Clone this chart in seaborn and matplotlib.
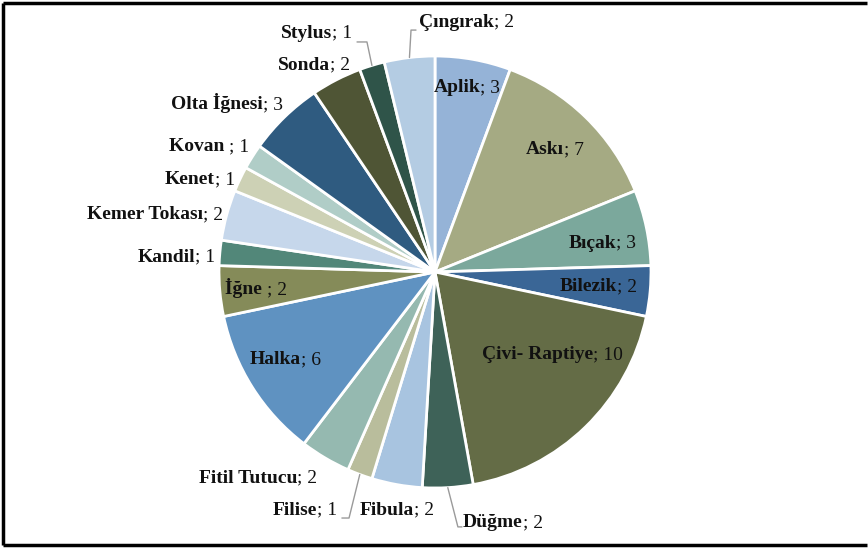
import matplotlib
matplotlib.use("Agg")
import matplotlib.pyplot as plt
import seaborn as sns
import numpy as np
from matplotlib.offsetbox import TextArea, HPacker, AnnotationBbox
from matplotlib.lines import Line2D

# ---- data ----
categories = ["Aplik", "Askı", "Bıçak", "Bilezik", "Çivi- Raptiye", "Düğme",
              "Fibula", "Filise", "Fitil Tutucu", "Halka", "İğne ", "Kandil",
              "Kemer Tokası", "Kenet", "Kovan ", "Olta İğnesi", "Sonda",
              "Stylus", "Çıngırak"]
values = [3, 7, 3, 2, 10, 2, 2, 1, 2, 6, 2, 1, 2, 1, 1, 3, 2, 1, 2]
colors = ["#95B3D7", "#A5AA83", "#7BA89C", "#3A6696", "#646C46", "#3E6258",
          "#A8C4E0", "#B9BD9C", "#95B9B0", "#5F92C1", "#858B59", "#528779",
          "#C6D7EB", "#CDD1B5", "#B0CDC7", "#2F5B80", "#4F5535", "#2F5449",
          "#B4CCE3"]

# label layout (data coords, pie radius = 1): (x, y, horizontal alignment)
label_pos = [(0.148, 0.852, "c"), (0.556, 0.565, "c"), (0.773, 0.134, "c"),
             (0.755, -0.069, "c"), (0.542, -0.384, "c"), (0.130, -1.162, "l"),
             (-0.176, -1.102, "c"), (-0.454, -1.102, "r"), (-0.819, -0.954, "c"),
             (-0.694, -0.407, "c"), (-0.829, -0.074, "c"), (-1.019, 0.069, "r"),
             (-0.981, 0.264, "r"), (-0.926, 0.426, "r"), (-0.861, 0.579, "r"),
             (-0.704, 0.782, "r"), (-0.394, 0.958, "r"), (-0.384, 1.106, "r"),
             (-0.074, 1.157, "l")]
# leader lines: index -> list of extra points after the wedge edge point
leaders = {18: [(-0.111, 1.120), (-0.088, 1.120)],
           17: [(-0.315, 1.065), (-0.361, 1.065)],
           7: [(-0.398, -1.139), (-0.431, -1.139)],
           5: [(0.106, -1.180), (0.125, -1.180)]}

sns.set_theme(style="white")
plt.rcParams["font.family"] = ["Liberation Serif", "DejaVu Serif"]

W, H = 868, 548
fig = plt.figure(figsize=(W / 100, H / 100), dpi=100)
fig.patch.set_linewidth(0)
cx, cy, r = 435, 272, 216
ax = fig.add_axes([(cx - r) / W, (H - cy - r) / H, 2 * r / W, 2 * r / H])
wedges, _ = ax.pie(values, colors=colors, startangle=90, counterclock=False,
                   radius=1, wedgeprops=dict(edgecolor="white", linewidth=2))
ax.set_xlim(-1, 1)
ax.set_ylim(-1, 1)
ax.set_aspect("equal")
ax.axis("off")

fs = 14
for i, (cat, val) in enumerate(zip(categories, values)):
    x, y, ha = label_pos[i]
    bold = TextArea(cat, textprops=dict(fontweight="bold", fontsize=fs,
                                        color="#111111"))
    norm = TextArea("; " + str(val), textprops=dict(fontsize=fs, color="#111111"))
    box = HPacker(children=[bold, norm], pad=0, sep=0, align="baseline")
    bx = {"c": 0.5, "l": 0.0, "r": 1.0}[ha]
    ab = AnnotationBbox(box, (x, y), xycoords="data", frameon=False,
                        box_alignment=(bx, 0.5), pad=0, annotation_clip=False)
    ax.add_artist(ab)
    if i in leaders:
        w = wedges[i]
        mid = np.deg2rad((w.theta1 + w.theta2) / 2)
        pts = [(np.cos(mid), np.sin(mid))] + leaders[i]
        xs, ys = zip(*pts)
        ax.plot(xs, ys, color="#9a9a9a", lw=1, clip_on=False)

# outer frame (left, top, bottom only)
for (x0, y0, x1, y1) in [(0.004, 0.995, 0.999, 0.995), (0.004, 0.005, 0.999, 0.005),
                         (0.004, 0.005, 0.004, 0.995)]:
    fig.add_artist(Line2D([x0, x1], [y0, y1], transform=fig.transFigure,
                          color="black", lw=2.5, solid_capstyle="butt"))

fig.savefig("out.png", dpi=100)
